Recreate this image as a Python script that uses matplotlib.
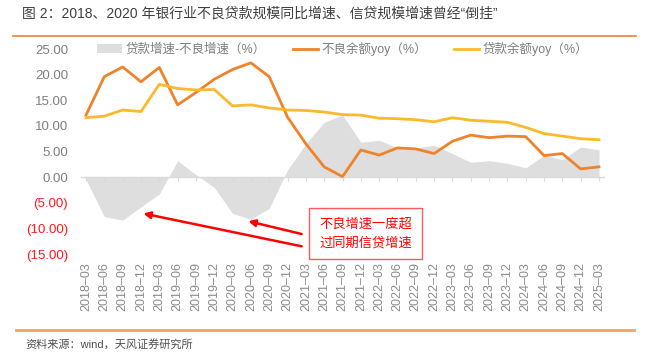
import numpy as np
import matplotlib
matplotlib.use("Agg")
import matplotlib.pyplot as plt
from matplotlib.lines import Line2D
from matplotlib.ticker import FuncFormatter

plt.rcParams['font.family'] = ['Liberation Sans', 'Noto Sans CJK SC', 'DejaVu Sans']

# quarterly data, %
quarters = ['2018-03', '2018-06', '2018-09', '2018-12', '2019-03', '2019-06', '2019-09', '2019-12',
            '2020-03', '2020-06', '2020-09', '2020-12', '2021-03', '2021-06', '2021-09', '2021-12',
            '2022-03', '2022-06', '2022-09', '2022-12', '2023-03', '2023-06', '2023-09', '2023-12',
            '2024-03', '2024-06', '2024-09', '2024-12', '2025-03']
npl_yoy = [12.1, 19.6, 21.5, 18.6, 21.4, 14.1, 16.5, 19.1, 21.0, 22.3, 19.6, 11.7, 6.5, 2.0, 0.1,
           5.3, 4.3, 5.7, 5.5, 4.6, 7.0, 8.2, 7.7, 8.0, 7.9, 4.2, 4.6, 1.6, 2.0]
loan_yoy = [11.6, 11.9, 13.1, 12.8, 18.1, 17.3, 17.0, 17.1, 13.9, 14.1, 13.5, 13.1, 13.0, 12.7, 12.2,
            12.1, 11.5, 11.4, 11.2, 10.8, 11.6, 11.1, 10.9, 10.7, 9.7, 8.5, 8.0, 7.5, 7.3]
gap = [-0.5, -7.7, -8.4, -5.8, -3.3, 3.2, 0.5, -2.0, -7.1, -8.2, -6.1, 1.4, 6.5, 10.7, 12.1,
       6.8, 7.2, 5.7, 5.7, 6.2, 4.6, 2.9, 3.2, 2.7, 1.8, 4.3, 3.4, 5.9, 5.3]

W, H = 651, 356
fig = plt.figure(figsize=(W / 100, H / 100), dpi=100)
ax = fig.add_axes([80.5 / W, 1 - 254 / H, 524 / W, 205 / H])

x = np.arange(len(quarters))
ax.fill_between(x, 0, gap, color='#DEDEDE', lw=0, label='贷款增速-不良增速（%）')
ax.plot(x, npl_yoy, color='#F0832A', lw=2, label='不良余额yoy（%）')
ax.plot(x, loan_yoy, color='#FBB92C', lw=2, label='贷款余额yoy（%）')

ax.axhline(0, color='#D9D9D9', lw=1, zorder=0.5)
ax.vlines(x, -0.7, 0, color='#D9D9D9', lw=0.8)

ax.set_xlim(-0.3, len(quarters) - 0.7)
ax.set_ylim(-15, 25)
ax.set_yticks(range(-15, 30, 5))


def fmt(v, pos):
    return '(%.2f)' % abs(v) if v < 0 else '%.2f' % v


ax.yaxis.set_major_formatter(FuncFormatter(fmt))
ax.tick_params(axis='y', length=0, pad=9, labelsize=9.5, labelcolor='#7F7F7F')
for t, v in zip(ax.get_yticklabels(), ax.get_yticks()):
    if v < 0:
        t.set_color('#FF1A1A')

ax.set_xticks(x)
ax.set_xticklabels([q.replace('-', '–') for q in quarters], rotation=90, fontsize=9, color='#8C8C8C')
ax.tick_params(axis='x', length=0, pad=6)

for s in ax.spines.values():
    s.set_visible(False)

ax.legend(loc='center', bbox_to_anchor=(0.5, 1.0), ncol=3, frameon=False, fontsize=9,
          labelcolor='#7F7F7F', handlelength=2.0, columnspacing=2.2, handletextpad=0.25)

# annotation
arrow = dict(arrowstyle='-|>', color='#FF0000', lw=1.8, mutation_scale=10, shrinkA=0, shrinkB=0)
ax.annotate('', xy=(3.13, -7.1), xytext=(11.77, -13.5), arrowprops=arrow, annotation_clip=False)
ax.annotate('', xy=(8.86, -8.6), xytext=(11.77, -11.1), arrowprops=arrow, annotation_clip=False)
ax.text(15.25, -11.0, '不良增速一度超\n过同期信贷增速', ha='center', va='center', color='#FF0000',
        fontsize=9.5, linespacing=1.6, clip_on=False,
        bbox=dict(boxstyle='square,pad=0.75', fc='white', ec='#FF5A5A', lw=1))

# title, rules and source
fig.text(22 / W, 1 - 14 / H, '图 2：2018、2020 年银行业不良贷款规模同比增速、信贷规模增速曾经“倒挂”',
         fontsize=10, color='#404040', va='center')
fig.add_artist(Line2D([13 / W, 636 / W], [1 - 36 / H] * 2, color='#F07F2F', lw=1.2))
fig.add_artist(Line2D([16 / W, 634 / W], [1 - 330 / H] * 2, color='#F6A25C', lw=2))
fig.text(25 / W, 1 - 344 / H, '资料来源：wind，天风证券研究所', fontsize=8, color='#505050', va='center')

fig.savefig('out.png', dpi=100)
